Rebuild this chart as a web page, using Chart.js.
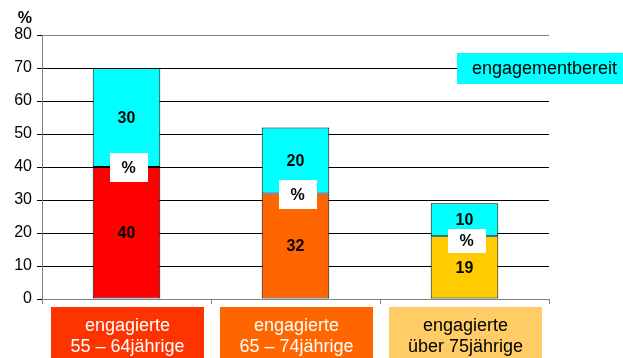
<!DOCTYPE html>
<html>
<head>
<meta charset="utf-8">
<script src="https://cdn.jsdelivr.net/npm/chart.js@4"></script>
<style>
  html, body { margin: 0; padding: 0; background: #fff; }
  canvas { display: block; }
</style>
</head>
<body>
<canvas id="myChart" width="623" height="358"></canvas>
<script>
// age groups shown under the bars
const categories = [
  ['engagierte', '55 – 64jährige'],
  ['engagierte', '65 – 74jährige'],
  ['engagierte', 'über 75jährige']
];
const engagiert = [40, 32, 19];
const engagementbereit = [30, 20, 10];
const seriesLabels = ['engagiert', 'engagementbereit'];
const yMin = 0;
const yMax = 80;
const yStep = 10;
const unitLabel = '%';

const barColors = ['#ff0000', '#ff6600', '#ffcc00'];
const boxColors = ['#ff3300', '#ff6600', '#ffcc66'];
const boxTextColors = ['#ffffff', '#ffffff', '#000000'];
const readyColor = '#00ffff';
const FONT = '"Liberation Sans", Arial, sans-serif';

// "%" tag placement relative to the segment boundary: [offset above, height]
const tagBoxes = [[14, 29], [13, 29], [7, 24]];

// values, "%" tags, category boxes and the legend box
const decorPlugin = {
  id: 'decor',
  afterDatasetsDraw(chart) {
    const ctx = chart.ctx;
    const low = chart.getDatasetMeta(0).data;
    const high = chart.getDatasetMeta(1).data;
    ctx.save();
    ctx.font = 'bold 16px ' + FONT;
    ctx.textAlign = 'center';
    ctx.textBaseline = 'middle';
    low.forEach((bar, i) => {
      // white "%" tag sitting on the boundary between the two segments
      const [up, h] = tagBoxes[i];
      const ty = Math.round(bar.y - up);
      ctx.fillStyle = '#fff';
      ctx.fillRect(Math.round(bar.x - 17), ty, 38, h);
      ctx.fillStyle = '#000';
      ctx.fillText(unitLabel, bar.x + 2, ty + h / 2 + 1);
    });
    low.forEach((bar, i) => {
      const top = high[i];
      ctx.fillStyle = '#000';
      ctx.fillText(String(engagiert[i]), bar.x, (bar.y + bar.base) / 2 + 1);
      ctx.fillText(String(engagementbereit[i]), top.x, (top.y + top.base) / 2 + 1);
    });
    ctx.restore();
  },
  afterDraw(chart) {
    const ctx = chart.ctx;
    const x = chart.scales.x;
    ctx.save();
    ctx.textAlign = 'center';
    ctx.textBaseline = 'middle';
    ctx.font = '18px ' + FONT;
    categories.forEach((lines, i) => {
      const cx = x.getPixelForValue(i) + 1;
      ctx.fillStyle = boxColors[i];
      ctx.fillRect(Math.round(cx - 76.5), 307, 153, 51);
      ctx.fillStyle = boxTextColors[i];
      ctx.fillText(lines[0], cx, 326);
      ctx.fillText(lines[1], cx, 347);
    });

    // legend box for the upper segments
    ctx.fillStyle = readyColor;
    ctx.fillRect(457, 53, 166, 31);
    ctx.fillStyle = '#000';
    ctx.textAlign = 'left';
    ctx.fillText(seriesLabels[1], 472, 69);

    // unit above the y axis
    ctx.font = 'bold 16px ' + FONT;
    ctx.textAlign = 'right';
    ctx.fillText(unitLabel, 32, 19);
    ctx.restore();
  }
};

const ctx = document.getElementById('myChart');
new Chart(ctx, {
  type: 'bar',
  data: {
    labels: categories.map(c => c.join(' ')),
    datasets: [
      {
        label: seriesLabels[0],
        data: engagiert,
        backgroundColor: barColors,
        borderColor: '#000',
        borderWidth: 1,
        borderSkipped: false
      },
      {
        label: seriesLabels[1],
        data: engagementbereit,
        backgroundColor: readyColor,
        borderColor: '#000',
        borderWidth: 1,
        borderSkipped: false
      }
    ]
  },
  options: {
    responsive: false,
    animation: false,
    layout: { padding: { top: 35, right: 74, left: 0, bottom: 0 } },
    datasets: { bar: { barPercentage: 0.4, categoryPercentage: 1 } },
    plugins: {
      legend: { display: false },
      tooltip: { enabled: false }
    },
    scales: {
      x: {
        stacked: true,
        afterFit(scale) { scale.height = 59; },
        grid: {
          offset: true,
          drawOnChartArea: false,
          drawTicks: true,
          tickLength: 5,
          tickColor: '#808080'
        },
        border: { color: '#808080', width: 1 },
        ticks: { display: false }
      },
      y: {
        stacked: true,
        min: yMin,
        max: yMax,
        afterFit(scale) { scale.width = 42; },
        ticks: {
          stepSize: yStep,
          padding: 5,
          color: '#000',
          font: { family: FONT, size: 16 }
        },
        grid: {
          color: c => (c.tick.value === yMax ? '#808080' : '#000'),
          tickColor: '#000',
          tickLength: 5
        },
        border: { color: '#808080', width: 1 }
      }
    }
  },
  plugins: [decorPlugin]
});
</script>
</body>
</html>
